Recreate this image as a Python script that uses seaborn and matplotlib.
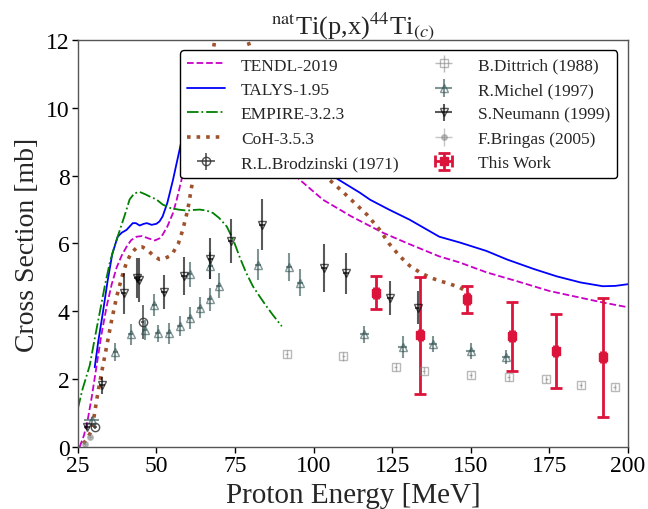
import numpy as np
import pandas as pd
import matplotlib
matplotlib.use("Agg")
import matplotlib.pyplot as plt
import seaborn as sns

# ---------------- model curves ----------------
tendl_E = [25.6, 27, 28.2, 29.5, 31, 32.5, 34.2, 35.8, 37.4, 39, 40.5, 42, 43.7, 45.5, 47.5, 49.5,
           51, 52, 53.5, 55.3, 56.5, 58, 60, 63, 66, 70, 74, 78, 83, 88, 95.6, 103, 112, 122, 130,
           140, 146.5, 155, 165, 175, 185, 192, 200]
tendl_S = [0.0, 0.35, 0.82, 1.5, 2.4, 3.3, 4.15, 4.8, 5.3, 5.65, 5.9, 6.1, 6.2, 6.22, 6.15, 6.09,
           6.15, 6.26, 6.5, 6.9, 7.3, 7.88, 8.6, 9.5, 10.1, 10.4, 10.3, 9.9, 9.2, 8.6, 7.88, 7.29,
           6.8, 6.32, 6.0, 5.62, 5.44, 5.15, 4.88, 4.6, 4.4, 4.26, 4.12]

talys_E = [30.4, 31.5, 33, 34.5, 36, 37.7, 39, 40.5, 41.5, 42.5, 43.5, 44.7, 46, 47, 48.5, 50, 51,
           52, 53.5, 55.3, 57, 58.4, 60, 63, 66, 70, 75, 80, 90, 100, 108, 114.7, 118, 124, 130.6,
           140, 146.5, 155, 161.5, 170, 177.4, 185, 192, 196, 200]
talys_S = [2.35, 3.1, 3.97, 4.9, 5.7, 6.2, 6.32, 6.4, 6.5, 6.6, 6.6, 6.53, 6.58, 6.6, 6.55, 6.58,
           6.65, 6.8, 7.2, 7.88, 8.6, 9.2, 9.8, 10.6, 11.0, 11.1, 10.8, 10.2, 9.2, 8.4, 7.88, 7.5,
           7.29, 7.0, 6.7, 6.2, 6.03, 5.78, 5.53, 5.25, 5.03, 4.85, 4.74, 4.75, 4.8]

empire_E = [25, 26.5, 28.8, 30.4, 32, 33.6, 35.2, 36.8, 38.4, 40, 41.5, 43, 44.7, 46.5, 48, 50, 52,
            54.3, 57, 59.7, 62, 63.8, 66, 68, 70, 72.4, 74.5, 76.5, 78.5, 80.7, 83, 85, 87, 89.9]
empire_S = [1.12, 1.7, 2.4, 3.2, 3.97, 4.75, 5.44, 5.95, 6.4, 6.85, 7.3, 7.48, 7.52, 7.45, 7.38,
            7.3, 7.15, 7.05, 7.0, 6.97, 6.99, 7.0, 6.97, 6.9, 6.75, 6.5, 6.1, 5.6, 5.15, 4.74,
            4.42, 4.15, 3.9, 3.56]

coh_E = [26.8, 28, 29.5, 31.4, 32.8, 34.2, 35.8, 37.4, 39, 40.5, 42, 44, 45.5, 47, 49, 51, 52.5,
         54, 55.3, 57, 58.4, 60, 61.6, 63.5, 66, 68.6, 71, 74, 76.5, 79, 82, 86, 90, 95, 100, 105,
         109, 113, 117, 121, 124, 127.5, 130.5, 133.8, 137, 140, 143, 146.5, 148.5, 149.7]
coh_S = [0.1, 0.25, 0.5, 1.6, 2.3, 2.97, 3.75, 4.44, 5.0, 5.44, 5.72, 5.9, 5.9, 5.82, 5.65, 5.53,
         5.55, 5.62, 5.73, 6.0, 6.4, 7.0, 7.88, 9.0, 10.5, 12.0, 12.8, 13.0, 12.6, 12.0, 11.2,
         10.3, 9.6, 8.9, 8.4, 7.88, 7.55, 7.2, 6.85, 6.41, 6.0, 5.62, 5.35, 5.15, 5.0, 4.9, 4.82,
         4.7, 4.6, 4.44]

# ---------------- experimental data ----------------
brod_E = [30.5, 45.6]
brod_S = [0.6, 3.69]
brod_dS = [0.08, 0.5]
brod_dE = [0.6, 0.6]

ditt_E = [91.4, 109.4, 126.2, 135.1, 150.0, 162.1, 174.1, 185.0, 195.8]
ditt_S = [2.75, 2.67, 2.36, 2.25, 2.12, 2.05, 2.0, 1.82, 1.77]
ditt_dS = [0.12, 0.12, 0.11, 0.11, 0.1, 0.1, 0.1, 0.09, 0.09]
ditt_dE = [0.5] * 9

mich_E = [29.5, 37.0, 41.8, 46.3, 49.3, 50.4, 54.0, 57.5, 60.6, 60.6, 63.8, 67.0, 67.2, 69.9,
          82.4, 92.2, 95.6, 116.1, 128.3, 138.0, 150.0, 161.2]
mich_S = [0.79, 2.81, 3.32, 3.45, 4.19, 3.35, 3.35, 3.57, 3.81, 5.09, 4.11, 4.35, 5.35, 4.76,
          5.38, 5.3, 4.84, 3.32, 2.95, 3.03, 2.83, 2.66]
mich_dS = [0.1, 0.27, 0.3, 0.3, 0.32, 0.25, 0.3, 0.3, 0.32, 0.37, 0.32, 0.35, 0.4, 0.37, 0.45,
           0.42, 0.4, 0.25, 0.32, 0.24, 0.25, 0.2]
mich_dE = [2.4, 0.8, 0.8, 0.8, 0.8, 0.8, 0.8, 0.8, 0.8, 0.8, 0.8, 0.8, 0.8, 0.8, 1.0, 1.0, 1.0,
           1.4, 1.4, 1.4, 1.4, 1.4]

neum_E = [27.9, 32.8, 39.6, 43.9, 44.5, 52.5, 58.8, 67.2, 73.6, 83.6, 103.3, 110.3, 124.3, 133.2]
neum_S = [0.59, 1.82, 4.53, 4.98, 4.93, 4.58, 5.04, 5.55, 6.07, 6.56, 5.28, 5.12, 4.4, 4.11]
neum_dS = [0.1, 0.25, 0.6, 0.6, 0.65, 0.5, 0.55, 0.6, 0.65, 0.75, 0.7, 0.6, 0.5, 0.48]
neum_dE = [0.9] * 14

brin_E = [27.3, 28.9]
brin_S = [0.09, 0.3]
brin_dS = [0.05, 0.06]
brin_dE = [0.5, 0.5]

tw_E = [119.8, 134.0, 148.7, 163.2, 177.0, 192.1]
tw_S = [4.55, 3.29, 4.35, 3.26, 2.82, 2.64]
tw_dS = [0.48, 1.73, 0.41, 1.02, 1.09, 1.76]
tw_dE = [0.6] * 6

x_ticks = [25, 50, 75, 100, 125, 150, 175, 200]
y_ticks = [0, 2, 4, 6, 8, 10, 12]

# ---------------- style ----------------
sns.set_theme(style="white")
plt.rcParams['font.family'] = ['Liberation Serif', 'DejaVu Serif']
plt.rcParams['mathtext.fontset'] = 'stix'

fig = plt.figure(figsize=(6.48, 5.10), dpi=100)
ax = fig.add_axes([0.120, 0.1216, 0.849, 0.798])

def curve(E, S, label, **kw):
    df = pd.DataFrame({"E": E, "S": S})
    sns.lineplot(data=df, x="E", y="S", ax=ax, label=label, sort=False,
                 estimator=None, **kw)

curve(tendl_E, tendl_S, "TENDL-2019", color="#C800C8", linestyle="--", linewidth=1.3)
curve(talys_E, talys_S, "TALYS-1.95", color="#0000FF", linestyle="-", linewidth=1.3)
curve(empire_E, empire_S, "EMPIRE-3.2.3", color="#008000", linestyle="-.", linewidth=1.3)
curve(coh_E, coh_S, "CoH-3.5.3", color="#A0522D", linestyle=":", linewidth=2.6)

ax.errorbar(brod_E, brod_S, yerr=brod_dS, xerr=brod_dE, fmt='o', mfc='none', mec='#333333',
            ecolor='#333333', color='#333333', ms=6, elinewidth=1.2, alpha=0.85,
            label="R.L.Brodzinski (1971)")
ax.errorbar(ditt_E, ditt_S, yerr=ditt_dS, xerr=ditt_dE, fmt='s', mfc='none', mec='gray',
            ecolor='gray', color='gray', ms=6, elinewidth=1.0, alpha=0.55,
            label="B.Dittrich (1988)")
ax.errorbar(mich_E, mich_S, yerr=mich_dS, xerr=mich_dE, fmt='^', mfc='none',
            mec='darkslategray', ecolor='darkslategray', color='darkslategray', ms=6,
            elinewidth=1.5, alpha=0.6, label="R.Michel (1997)")
ax.errorbar(neum_E, neum_S, yerr=neum_dS, xerr=neum_dE, fmt='v', mfc='none', mec='black',
            ecolor='black', color='black', ms=6, elinewidth=1.5, alpha=0.65,
            label="S.Neumann (1999)")
ax.errorbar(brin_E, brin_S, yerr=brin_dS, xerr=brin_dE, fmt='o', color='gray', ms=4,
            elinewidth=1.0, alpha=0.45, label="F.Bringas (2005)")
ax.errorbar(tw_E, tw_S, yerr=tw_dS, xerr=tw_dE, fmt='s', color='crimson', ecolor='crimson',
            ms=6, elinewidth=2, capsize=4, capthick=2, label="This Work")

ax.set_xlim(25, 200)
ax.set_ylim(0, 12)
ax.set_xticks(x_ticks)
ax.set_yticks(y_ticks)
ax.tick_params(axis='both', labelsize=17, direction='out', length=4, width=1, colors='black',
               bottom=True, left=True, pad=2)
for sp in ax.spines.values():
    sp.set_color('#555555')
    sp.set_linewidth(1.0)

ax.set_xlabel("Proton Energy [MeV]", fontsize=21, labelpad=4)
ax.set_ylabel("Cross Section [mb]", fontsize=20)
ax.set_title(r"$^{\rm nat}$Ti(p,x)$^{44}$Ti$_{(c)}$", fontsize=19, pad=5)

leg = ax.legend(loc='upper right', ncol=2, fontsize=12.5, framealpha=1, edgecolor='black',
                fancybox=True, borderaxespad=0.6, labelspacing=0.48, columnspacing=1.5,
                handlelength=2.2, handletextpad=0.9)
leg.get_frame().set_linewidth(1.0)

fig.savefig("out.png", dpi=100)
